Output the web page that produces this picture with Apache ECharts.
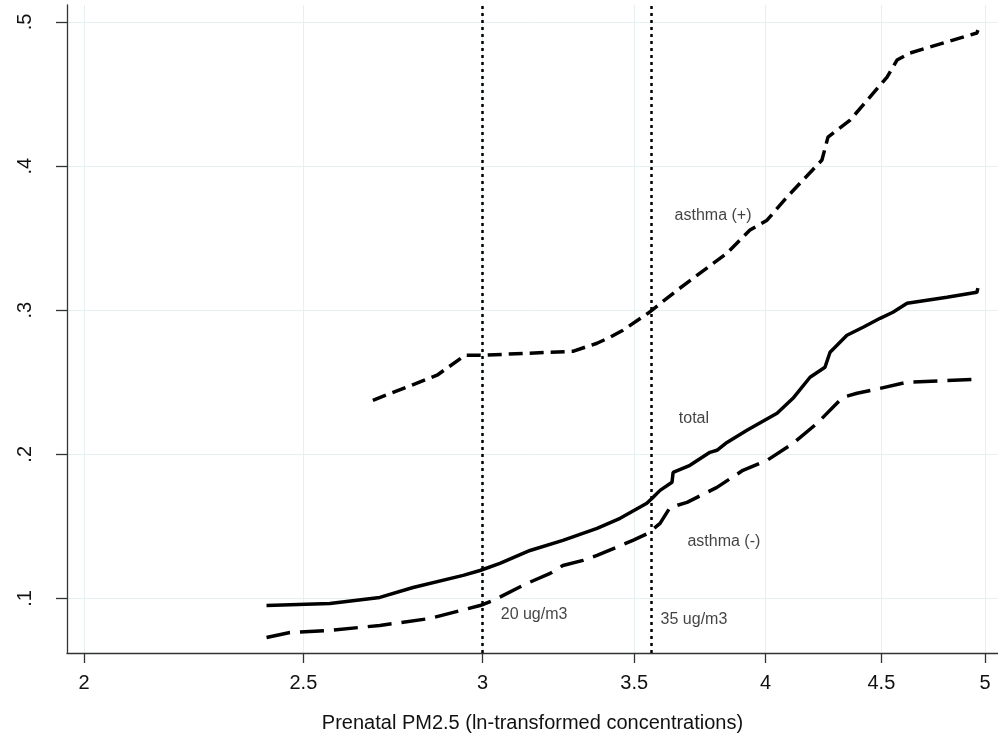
<!DOCTYPE html>
<html>
<head>
<meta charset="utf-8">
<title>Prenatal PM2.5</title>
<script src="https://cdn.jsdelivr.net/npm/echarts@6/dist/echarts.min.js"></script>
<style>
  html, body { margin: 0; padding: 0; background: #fff; }
  #chart { width: 998px; height: 742px; }
</style>
</head>
<body>
<div id="chart"></div>
<script>
// x = ln-transformed PM2.5, y = predicted probability
const totalX = [2.408, 2.568, 2.702, 2.795, 2.941, 2.992, 3.053, 3.148, 3.255, 3.370, 3.450, 3.545, 3.567, 3.593, 3.637, 3.641, 3.704, 3.780, 3.807, 3.846, 3.925, 4.047, 4.113, 4.185, 4.249, 4.271, 4.345, 4.417, 4.494, 4.553, 4.619, 4.810, 4.959, 4.964]
const totalY = [0.0951, 0.0965, 0.1007, 0.1076, 0.116, 0.1194, 0.1243, 0.1333, 0.1403, 0.1486, 0.1556, 0.166, 0.1701, 0.175, 0.1806, 0.1875, 0.1924, 0.2014, 0.2028, 0.2083, 0.2167, 0.2285, 0.2389, 0.2535, 0.2604, 0.2708, 0.2826, 0.2882, 0.2944, 0.2986, 0.3049, 0.309, 0.3125, 0.3153]

const negX = [2.408, 2.466, 2.568, 2.702, 2.843, 2.992, 3.032, 3.138, 3.213, 3.255, 3.322, 3.370, 3.495, 3.549, 3.593, 3.630, 3.693, 3.807, 3.909, 4.006, 4.113, 4.215, 4.327, 4.390, 4.494, 4.619, 4.959]
const negY = [0.0729, 0.0764, 0.0778, 0.0813, 0.0861, 0.0951, 0.0986, 0.1104, 0.1174, 0.1229, 0.1264, 0.1299, 0.1403, 0.1451, 0.1521, 0.1632, 0.1667, 0.1771, 0.1889, 0.1958, 0.2076, 0.2215, 0.2396, 0.2424, 0.2458, 0.25, 0.2521]

const posX = [2.683, 2.864, 2.947, 3.001, 3.288, 3.370, 3.415, 3.460, 3.549, 3.656, 3.742, 3.846, 3.937, 4.006, 4.088, 4.143, 4.236, 4.262, 4.359, 4.526, 4.572, 4.633, 4.959, 4.964]
const posY = [0.2375, 0.2549, 0.2688, 0.2688, 0.2715, 0.2771, 0.2813, 0.2861, 0.2979, 0.3139, 0.3257, 0.3396, 0.3556, 0.3625, 0.3785, 0.3882, 0.4042, 0.4201, 0.4319, 0.4618, 0.4736, 0.4785, 0.4924, 0.4944]

const xTicks = [2, 2.5, 3, 3.5, 4, 4.5, 5]
const yTicks = [0.1, 0.2, 0.3, 0.4, 0.5]
const limits = [20, 35] // ug/m3

// text labels [x, y, text]
const notes = [
  [3.792, 0.366, 'asthma (+)'],
  [3.719, 0.225, 'total'],
  [3.834, 0.1396, 'asthma (-)'],
  [3.161, 0.0889, '20 ug/m3'],
  [3.719, 0.0854, '35 ug/m3']
]

const zip = (xs, ys) => xs.map((x, i) => [x, ys[i]])
const font = 'Liberation Sans, Arial, sans-serif'

const chart = echarts.init(document.getElementById('chart'))
chart.setOption({
  animation: false,
  backgroundColor: '#fff',
  grid: { left: 67, right: 0, top: 5, bottom: 89 },
  xAxis: {
    type: 'log',
    logBase: Math.E,
    min: 1.9658,
    max: 5.0665,
    name: 'Prenatal PM2.5 (ln-transformed concentrations)',
    nameLocation: 'middle',
    nameGap: 60,
    nameTextStyle: { fontFamily: font, fontSize: 20, color: '#111' },
    axisLine: { lineStyle: { color: '#333', width: 1.3 } },
    axisTick: { length: 10, customValues: xTicks, lineStyle: { color: '#333', width: 1.3 } },
    axisLabel: {
      customValues: xTicks,
      margin: 20,
      fontFamily: font,
      fontSize: 20,
      color: '#111',
      formatter: v => String(v)
    },
    splitLine: { show: true, lineStyle: { color: '#e6f0f0', width: 1 } }
  },
  yAxis: {
    type: 'value',
    min: 0.06215,
    max: 0.5118,
    axisLine: { show: true, lineStyle: { color: '#333', width: 1.3 } },
    axisTick: { show: true, length: 11, customValues: yTicks, lineStyle: { color: '#333', width: 1.3 } },
    axisLabel: {
      customValues: yTicks,
      rotate: 90,
      margin: 32,
      fontFamily: font,
      fontSize: 20,
      color: '#111',
      formatter: v => String(+v.toFixed(1)).replace(/^0/, '')
    },
    splitLine: { show: true, lineStyle: { color: '#e6f0f0', width: 1 } }
  },
  series: [
    {
      name: 'total',
      type: 'line',
      data: zip(totalX, totalY),
      showSymbol: false,
      lineStyle: { color: '#000', width: 3.5 },
      markLine: {
        silent: true,
        symbol: 'none',
        label: { show: false },
        lineStyle: { color: '#000', width: 2.5, type: [3, 4] },
        data: limits.map(c => ({ xAxis: Math.log(c) }))
      }
    },
    {
      name: 'asthma (-)',
      type: 'line',
      data: zip(negX, negY),
      showSymbol: false,
      lineStyle: { color: '#000', width: 3.5, type: [24, 10] }
    },
    {
      name: 'asthma (+)',
      type: 'line',
      data: zip(posX, posY),
      showSymbol: false,
      lineStyle: { color: '#000', width: 3.5, type: [14, 7] }
    },
    {
      name: 'notes',
      type: 'scatter',
      symbolSize: 0,
      silent: true,
      data: notes.map(n => ({ value: [n[0], n[1]], name: n[2] })),
      label: {
        show: true,
        position: 'inside',
        formatter: p => p.name,
        fontFamily: font,
        fontSize: 16,
        color: '#111'
      }
    }
  ]
})
</script>
</body>
</html>
